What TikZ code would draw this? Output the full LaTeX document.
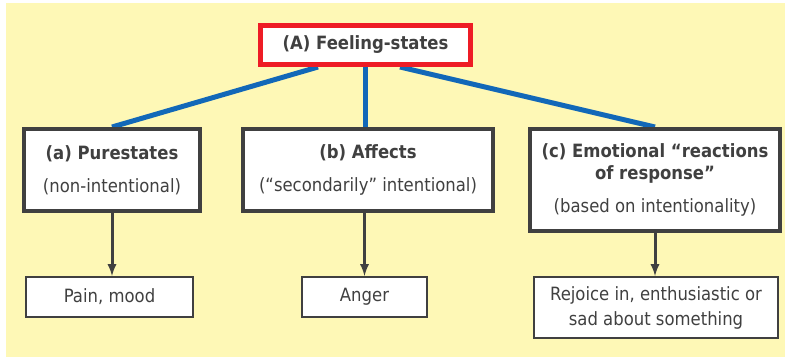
\documentclass[tikz,border=0pt]{standalone}
\usepackage{fontspec}
\setmainfont{DejaVu Sans}[FakeStretch=0.9]
\usepackage{xcolor}
\usepackage{tikz}
\usetikzlibrary{shapes,arrows,positioning,backgrounds,calc}

\definecolor{bgyellow}{HTML}{FEF8B6}
\definecolor{topred}{HTML}{EE1C25}
\definecolor{linkblue}{HTML}{1268B8}
\definecolor{inkgray}{HTML}{404040}

\tikzset{
	topbox/.style={draw=topred,line width=5pt,fill=white,text=inkgray,
		minimum width=210pt,minimum height=39pt,inner sep=0pt,
		font=\fontsize{18.3}{22}\selectfont\bfseries},
	classbox/.style={draw=inkgray,line width=4pt,fill=white,text=inkgray,
		minimum width=250pt,minimum height=82pt,inner sep=0pt,align=center,
		font=\fontsize{18.3}{22}\selectfont},
	examplebox/.style={draw=inkgray,line width=2pt,fill=white,text=inkgray,
		minimum width=125pt,minimum height=40pt,inner sep=0pt,align=center,
		font=\fontsize{18.3}{25}\selectfont},
	link/.style={draw=linkblue,line width=5pt},
	down/.style={draw=inkgray,line width=3pt,-latex}
}

\begin{document}
\begin{tikzpicture}[x=1pt,y=-1pt]
		\useasboundingbox (0,0) rectangle (785,357);
		\begin{pgfonlayer}{background}
			\fill[bgyellow] (6,3) rectangle (785,357);
		\end{pgfonlayer}
		
		% feeling-states and the three kinds
		\node[topbox] (feel) at (365.5,45) {(A) Feeling-states};
		\node[classbox,minimum width=176pt] (pure) at (112,170)
			{\textbf{(a) Purestates}\\[11pt](non-intentional)};
		\node[classbox] (affect) at (368,170)
			{\textbf{(b) Affects}\\[11pt](“secondarily” intentional)};
		\node[classbox,minimum height=102pt] (emo) at (655,180)
			{\textbf{(c) Emotional “reactions}\\\textbf{of response”}\\[11pt](based on intentionality)};
		
		% examples
		\node[examplebox,minimum width=167pt] (pain) at (109.5,297) {Pain, mood};
		\node[examplebox] (anger) at (364.5,297) {Anger};
		\node[examplebox,minimum width=244pt,minimum height=61pt] (rejoice) at (656,307.5)
			{Rejoice in, enthusiastic or\\sad about something};
		
		\begin{pgfonlayer}{background}
			\draw[link] ($(feel.south)+(-47.5,0)$) -- (pure.north);
			\draw[link] (feel.south) -- (feel.south |- affect.north);
			\draw[link] ($(feel.south)+(34.5,0)$) -- (emo.north);
		\end{pgfonlayer}
		
		\draw[down] (pure.south) -- (pure.south |- pain.north);
		\draw[down] (affect.south -| anger.north) -- (anger.north);
		\draw[down] (emo.south) -- (emo.south |- rejoice.north);
	\end{tikzpicture}
\end{document}
